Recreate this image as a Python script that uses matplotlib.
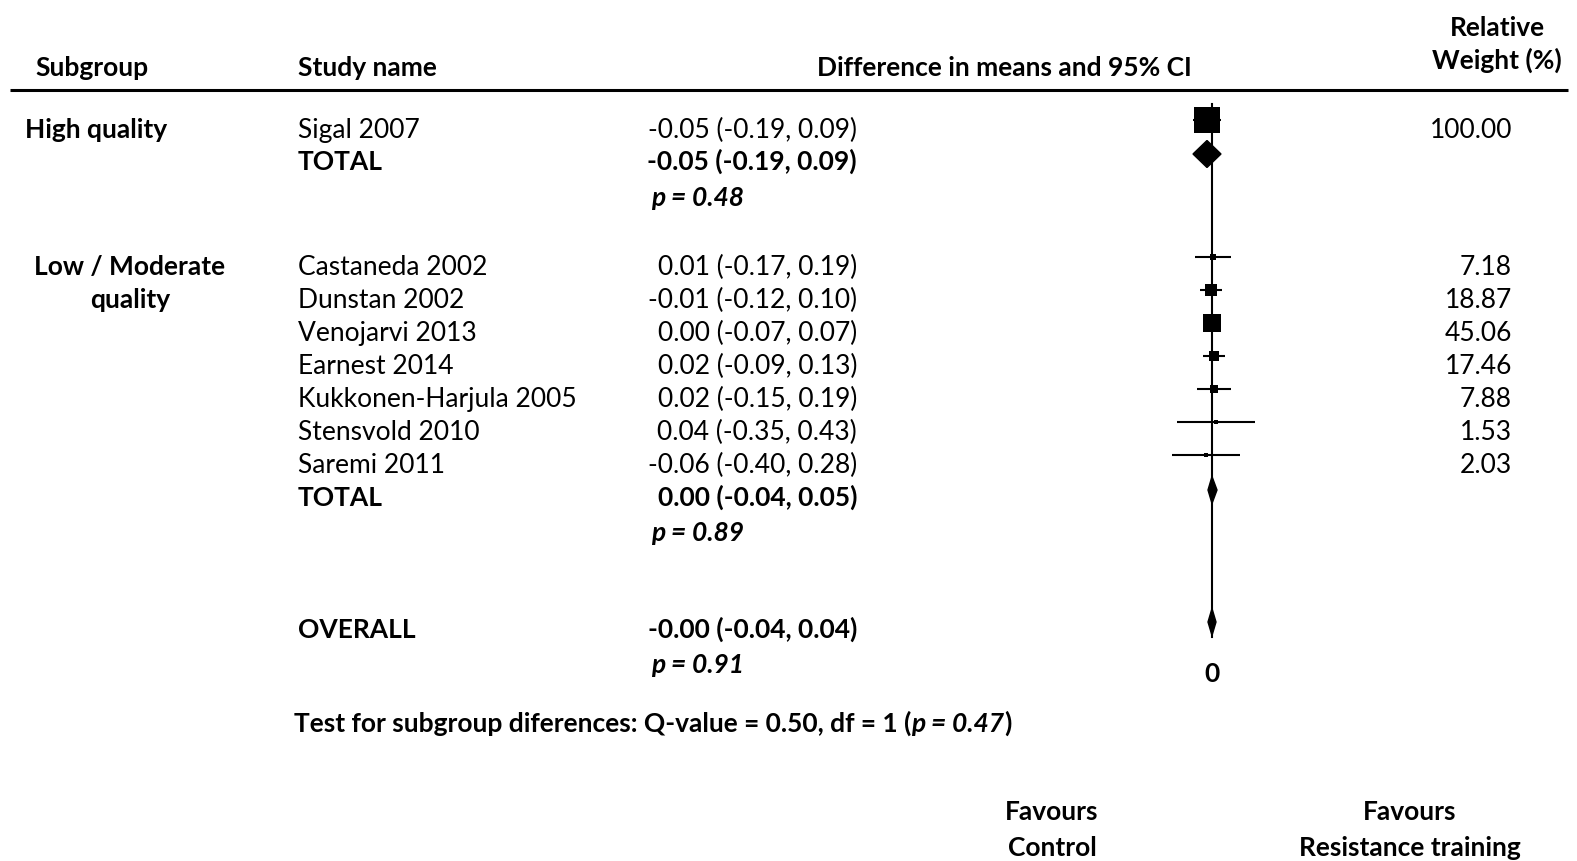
import matplotlib
matplotlib.use("Agg")
import matplotlib.pyplot as plt
from matplotlib.patches import Polygon

plt.rcParams['font.family'] = ['Lato', 'DejaVu Sans']

# Datos del subgrupo de alta calidad
hq_label = ["High quality"]
hq_studies = ["Sigal 2007"]
hq_est = [-0.05]
hq_lo = [-0.19]
hq_hi = [0.09]
hq_w = [100.00]
hq_total = (-0.05, -0.19, 0.09)
hq_p = "0.48"

# Datos del subgrupo de calidad baja / moderada
lm_label = ["Low / Moderate", "quality"]
lm_studies = ["Castaneda 2002", "Dunstan 2002", "Venojarvi 2013", "Earnest 2014",
              "Kukkonen-Harjula 2005", "Stensvold 2010", "Saremi 2011"]
lm_est = [0.01, -0.01, 0.00, 0.02, 0.02, 0.04, -0.06]
lm_lo = [-0.17, -0.12, -0.07, -0.09, -0.15, -0.35, -0.40]
lm_hi = [0.19, 0.10, 0.07, 0.13, 0.19, 0.43, 0.28]
lm_w = [7.18, 18.87, 45.06, 17.46, 7.88, 1.53, 2.03]
lm_total = (0.00, -0.04, 0.05)
lm_p = "0.89"

overall = ("-0.00", -0.04, 0.04)
overall_p = "0.91"
test_text = "Test for subgroup diferences: Q-value = 0.50, df = 1 ("
test_p = "0.47"

FS = 19
W, H = 1577, 862

fig = plt.figure(figsize=(W / 100, H / 100), dpi=100)
ax = fig.add_axes([0, 0, 1, 1])
ax.set_xlim(0, W)
ax.set_ylim(H, 0)
ax.axis('off')

# ejes del forest plot: 0 en x=1212 px, 100 px por unidad
ax_f = fig.add_axes([1112 / W, 0, 200 / W, 1])
ax_f.set_xlim(-1, 1)
ax_f.set_ylim(H, 0)
ax_f.axis('off')
ax_f.patch.set_alpha(0)

# posiciones de las filas (centro del texto, px)
x_sub, x_study, x_eff, x_p, x_w = 25, 298, 857, 651, 1512
y_hq = [129]
y_hq_total, y_hq_p = 161, 197
y_lm = [266 + 33 * i for i in range(len(lm_studies))]
y_lm_total, y_lm_p = 497, 532
y_ov, y_ov_p = 629, 664
off = 9      # baseline por debajo del centro
moff = -8    # marcadores algo por encima del texto

def fmt(e, lo, hi):
    e = e if isinstance(e, str) else f"{e:.2f}"
    return f"{e} ({lo:.2f}, {hi:.2f})"

# encabezados
ax.text(35, 76, "Subgroup", fontsize=FS, fontweight='bold', va='baseline')
ax.text(x_study, 76, "Study name", fontsize=FS, fontweight='bold', va='baseline')
ax.text(1004, 76, "Difference in means and 95% CI", fontsize=FS, fontweight='bold',
        va='baseline', ha='center')
ax.text(1497, 36, "Relative", fontsize=FS, fontweight='bold', va='baseline', ha='center')
ax.text(1497, 69, "Weight (%)", fontsize=FS, fontweight='bold', va='baseline', ha='center')
ax.plot([10, 1568], [90.5, 90.5], color='black', lw=2.2, solid_capstyle='butt')

# subgrupo alta calidad
ax.text(x_sub, y_hq[0] + off, hq_label[0], fontsize=FS, fontweight='bold', va='baseline')
for s, e, lo, hi, w, y in zip(hq_studies, hq_est, hq_lo, hq_hi, hq_w, y_hq):
    ax.text(x_study, y + off, s, fontsize=FS, va='baseline')
    ax.text(x_eff, y + off, fmt(e, lo, hi), fontsize=FS, va='baseline', ha='right')
    ax.text(x_w, y + off, f"{w:.2f}", fontsize=FS, va='baseline', ha='right')
ax.text(x_study, y_hq_total + off, "TOTAL", fontsize=FS, fontweight='bold', va='baseline')
ax.text(x_eff, y_hq_total + off, fmt(*hq_total), fontsize=FS, fontweight='bold',
        va='baseline', ha='right')
ax.text(x_p, y_hq_p + off, f"p = {hq_p}", fontsize=FS, fontweight='bold',
        style='italic', va='baseline')

# subgrupo baja / moderada
for lab, y in zip(lm_label, y_lm):
    ax.text(130, y + off, lab, fontsize=FS, fontweight='bold', va='baseline', ha='center')
for s, e, lo, hi, w, y in zip(lm_studies, lm_est, lm_lo, lm_hi, lm_w, y_lm):
    ax.text(x_study, y + off, s, fontsize=FS, va='baseline')
    ax.text(x_eff, y + off, fmt(e, lo, hi), fontsize=FS, va='baseline', ha='right')
    ax.text(x_w, y + off, f"{w:.2f}", fontsize=FS, va='baseline', ha='right')
ax.text(x_study, y_lm_total + off, "TOTAL", fontsize=FS, fontweight='bold', va='baseline')
ax.text(x_eff, y_lm_total + off, fmt(*lm_total), fontsize=FS, fontweight='bold',
        va='baseline', ha='right')
ax.text(x_p, y_lm_p + off, f"p = {lm_p}", fontsize=FS, fontweight='bold',
        style='italic', va='baseline')

# global
ax.text(x_study, y_ov + off, "OVERALL", fontsize=FS, fontweight='bold', va='baseline')
ax.text(x_eff, y_ov + off, fmt(*overall), fontsize=FS, fontweight='bold',
        va='baseline', ha='right')
ax.text(x_p, y_ov_p + off, f"p = {overall_p}", fontsize=FS, fontweight='bold',
        style='italic', va='baseline')

# prueba de diferencias entre subgrupos
t1 = ax.text(294, 732, test_text, fontsize=FS, fontweight='bold', va='baseline')
t2 = ax.annotate(f"p = {test_p}", xy=(1, 0), xycoords=t1, fontsize=FS,
                 fontweight='bold', style='italic', va='bottom', ha='left')
ax.annotate(")", xy=(1, 0), xycoords=t2, fontsize=FS, fontweight='bold',
            va='bottom', ha='left')

# Favours
ax.text(1052, 820, "Favours", fontsize=FS, fontweight='bold', va='baseline', ha='center')
ax.text(1052, 856, "Control", fontsize=FS, fontweight='bold', va='baseline', ha='center')
ax.text(1410, 820, "Favours", fontsize=FS, fontweight='bold', va='baseline', ha='center')
ax.text(1410, 856, "Resistance training", fontsize=FS, fontweight='bold',
        va='baseline', ha='center')

# forest plot
ax_f.plot([0, 0], [105, 638], color='black', lw=1.5, zorder=1)
ax_f.text(0, 682, "0", fontsize=FS, fontweight='bold', va='baseline', ha='center')

def study_marks(est, lo, hi, w, ys):
    for e, l, h, wt, y in zip(est, lo, hi, w, ys):
        ym = y + moff
        ax_f.plot([l, h], [ym, ym], color='black', lw=1.5, zorder=2,
                  solid_capstyle='butt')
        side = 2.6 * wt ** 0.5 * 0.72
        ax_f.plot([e], [ym], marker='s', ms=side, color='black', mew=0, zorder=3)

def diamond(e, lo, hi, y, h=27):
    e = float(e)
    ym = y + moff + 2
    ax_f.add_patch(Polygon([(lo, ym), (e, ym - h / 2), (hi, ym), (e, ym + h / 2)],
                           closed=True, color='black', zorder=3))

study_marks(hq_est, hq_lo, hq_hi, hq_w, y_hq)
study_marks(lm_est, lm_lo, lm_hi, lm_w, y_lm)
diamond(*hq_total, y_hq_total)
diamond(*lm_total, y_lm_total)
diamond(*overall, y_ov)

fig.savefig("out.png", dpi=100)
